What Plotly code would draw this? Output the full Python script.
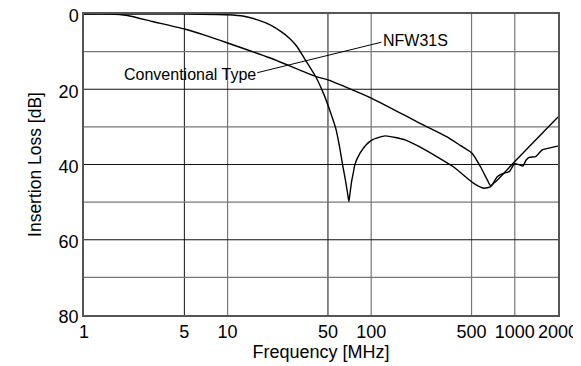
import plotly.graph_objects as go
import math

# ---- data ----
nfw_freq = [1, 5, 10, 13, 16, 19.8, 24, 27.4, 30.5, 34, 41, 47, 53, 57, 60, 63.6, 66.5, 69, 70, 71, 73, 75, 77,
            83.6, 92, 101, 125, 174, 220, 373, 518, 610, 680, 757, 822, 916, 995, 1080, 1140, 1200, 1260,
            1400, 1550, 1700, 2000]
nfw_loss = [0, 0, 0.2, 0.6, 1.5, 2.9, 4.9, 6.7, 8.7, 11.6, 16.6, 21.5, 27.0, 30.8, 35.0, 40.6, 44.6, 48.5, 49.8, 48.0, 44.6,
            42.3, 40.0, 37.0, 34.8, 33.5, 32.4, 33.5, 35.4, 40.6, 45.0, 46.3, 45.9, 43.2, 42.4, 41.9, 39.8, 40.1,
            40.4, 38.8, 38.1, 37.9, 36.1, 35.7, 35.1]

conv_freq = [1, 1.5, 2, 3, 5, 7, 10, 19.8, 41, 50, 101, 217, 335, 420, 504, 577, 644, 679, 1000, 2000]
conv_loss = [0, 0, 0.4, 2.0, 4.0, 5.7, 7.7, 11.7, 16.6, 17.5, 22.4, 29.0, 32.6, 35.0, 37.0, 40.6, 44.1, 45.6, 39.2, 27.4]

# leader line between the two labels (freq MHz, dB)
leader_freq = [16.1, 117.8]
leader_loss = [15.6, 7.5]

x_tick_vals = [1, 5, 10, 50, 100, 500, 1000, 2000]
x_tick_text = ["1", "5", "10", "50", "100", "500", "1000", "2000"]
y_tick_vals = [0, 20, 40, 60, 80]

x_grid_dark = [5, 50]
x_grid_gray = [10, 100, 500, 1000]
y_grid_dark = [20, 40, 60]
y_grid_gray = [10, 30, 50, 70]

FONT = "Liberation Sans, Arial, sans-serif"

fig = go.Figure()
fig.add_trace(go.Scatter(x=conv_freq, y=conv_loss, mode="lines",
                         line=dict(color="black", width=1.4, shape="spline", smoothing=0.6),
                         hoverinfo="skip", showlegend=False))
fig.add_trace(go.Scatter(x=nfw_freq, y=nfw_loss, mode="lines",
                         line=dict(color="black", width=1.4, shape="spline", smoothing=0.5),
                         hoverinfo="skip", showlegend=False))
fig.add_trace(go.Scatter(x=leader_freq, y=leader_loss, mode="lines",
                         line=dict(color="black", width=1),
                         hoverinfo="skip", showlegend=False))

shapes = []
for v in x_grid_dark:
    shapes.append(dict(type="line", xref="x", yref="paper", x0=v, x1=v, y0=0, y1=1,
                       line=dict(color="#111111", width=1), layer="below"))
for v in x_grid_gray:
    shapes.append(dict(type="line", xref="x", yref="paper", x0=v, x1=v, y0=0, y1=1,
                       line=dict(color="#777777", width=1.2), layer="below"))
for v in y_grid_dark:
    shapes.append(dict(type="line", xref="paper", yref="y", x0=0, x1=1, y0=v, y1=v,
                       line=dict(color="#111111", width=1), layer="below"))
for v in y_grid_gray:
    shapes.append(dict(type="line", xref="paper", yref="y", x0=0, x1=1, y0=v, y1=v,
                       line=dict(color="#777777", width=1.2), layer="below"))

annotations = [
    dict(x=math.log10(5.46), y=16.2, xref="x", yref="y", text="Conventional Type", showarrow=False,
         font=dict(family=FONT, size=16, color="black")),
    dict(x=math.log10(203.7), y=7.1, xref="x", yref="y", text="NFW31S", showarrow=False,
         font=dict(family=FONT, size=16, color="black")),
]

# page body has an 8px default margin, so the figure is sized to fit the 581x366 window
fig.update_layout(
    width=573, height=358,
    margin=dict(l=76, r=23, t=6, b=51),
    paper_bgcolor="white", plot_bgcolor="white",
    font=dict(family=FONT, size=18, color="black"),
    shapes=shapes, annotations=annotations,
    xaxis=dict(type="log", range=[0, math.log10(2000)], tickvals=x_tick_vals, ticktext=x_tick_text,
               showgrid=False, zeroline=False, showline=True, linecolor="#555555", linewidth=1.5,
               mirror=True, ticks="", tickfont=dict(size=18), automargin=False,
               ticklabeloverflow="allow",
               title=dict(text="Frequency [MHz]", font=dict(size=18), standoff=2)),
    yaxis=dict(range=[80, 0], tickvals=y_tick_vals, showgrid=False, zeroline=False,
               showline=True, linecolor="#555555", linewidth=1.5, mirror=True, ticks="",
               tickfont=dict(size=18), automargin=False, ticklabeloverflow="allow",
               ticklabelshift=-2,
               title=dict(text="Insertion Loss [dB]", font=dict(size=17.5), standoff=12)),
)

fig.write_html("out.html")
